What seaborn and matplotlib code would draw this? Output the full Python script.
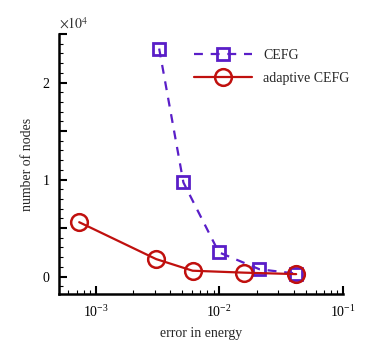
import matplotlib
matplotlib.use("Agg")
import matplotlib.pyplot as plt
import matplotlib.ticker as mticker
import seaborn as sns
import pandas as pd

# Data
cefg_err = [3.26e-3, 5.12e-3, 9.9e-3, 2.11e-2, 4.18e-2]
cefg_nodes = [23500, 9700, 2500, 750, 300]
adapt_err = [7.36e-4, 3.08e-3, 6.08e-3, 1.59e-2, 4.18e-2]
adapt_nodes = [5600, 1800, 600, 400, 250]
series_labels = ["CEFG", "adaptive CEFG"]
x_label = "error in energy"
y_label = "number of nodes"

sns.set_theme(style="white")
plt.rcParams['font.family'] = ['Liberation Serif', 'DejaVu Serif']
plt.rcParams['mathtext.fontset'] = 'stix'
plt.rcParams['xtick.direction'] = 'in'
plt.rcParams['ytick.direction'] = 'in'

fig = plt.figure(figsize=(3.88, 3.47), dpi=100)
ax = fig.add_axes([59/388, 1-294/347, (343-59)/388, (294-34)/347])

purple = "#5A1EC8"
red = "#C0100E"

df1 = pd.DataFrame({"err": cefg_err, "nodes": cefg_nodes})
df2 = pd.DataFrame({"err": adapt_err, "nodes": adapt_nodes})

sns.lineplot(data=df1, x="err", y="nodes", ax=ax, sort=False, color=purple,
             marker="s", markersize=8, markeredgewidth=2, markerfacecolor="none",
             markeredgecolor=purple, linewidth=1.6, dashes=(4, 3.5),
             label=series_labels[0])
sns.lineplot(data=df2, x="err", y="nodes", ax=ax, sort=False, color=red,
             marker="o", markersize=12, markeredgewidth=1.8, markerfacecolor="none",
             markeredgecolor=red, linewidth=1.6, label=series_labels[1])

ax.set_xscale("log")
ax.set_xlim(5.05e-4, 1e-1)
ax.set_ylim(-1800, 25000)

ax.yaxis.set_major_locator(mticker.MultipleLocator(5000))
ax.yaxis.set_minor_locator(mticker.MultipleLocator(1000))
ax.yaxis.set_major_formatter(mticker.FuncFormatter(
    lambda v, p: f"{int(round(v/1e4))}" if abs(v % 10000) < 1 else ""))

ax.xaxis.set_major_locator(mticker.LogLocator(base=10, numticks=10))
ax.xaxis.set_minor_locator(mticker.LogLocator(base=10, subs=range(2, 10), numticks=20))
ax.xaxis.set_major_formatter(mticker.LogFormatterMathtext())
ax.xaxis.set_minor_formatter(mticker.NullFormatter())

for s in ["top", "right"]:
    ax.spines[s].set_visible(False)
for s in ["left", "bottom"]:
    ax.spines[s].set_linewidth(1.8)
    ax.spines[s].set_color("black")

ax.tick_params(axis="both", which="major", direction="in", length=6, width=1.5,
               labelsize=10, colors="black", pad=7, left=True, bottom=True)
ax.tick_params(axis="both", which="minor", direction="in", length=3, width=0.8,
               colors="black", left=True, bottom=True)

ax.set_xlabel(x_label, fontsize=10, labelpad=5)
ax.set_ylabel(y_label, fontsize=10, labelpad=6)

ax.text(0.0, 1.01, r"$\times10^{4}$", transform=ax.transAxes, fontsize=10,
        ha="left", va="bottom", color="#333333")

leg = ax.legend(loc="upper left", bbox_to_anchor=(0.43, 0.99), frameon=False,
                fontsize=10, handlelength=4.2, handletextpad=0.8, labelspacing=0.7)

fig.savefig("out.png", dpi=100)
